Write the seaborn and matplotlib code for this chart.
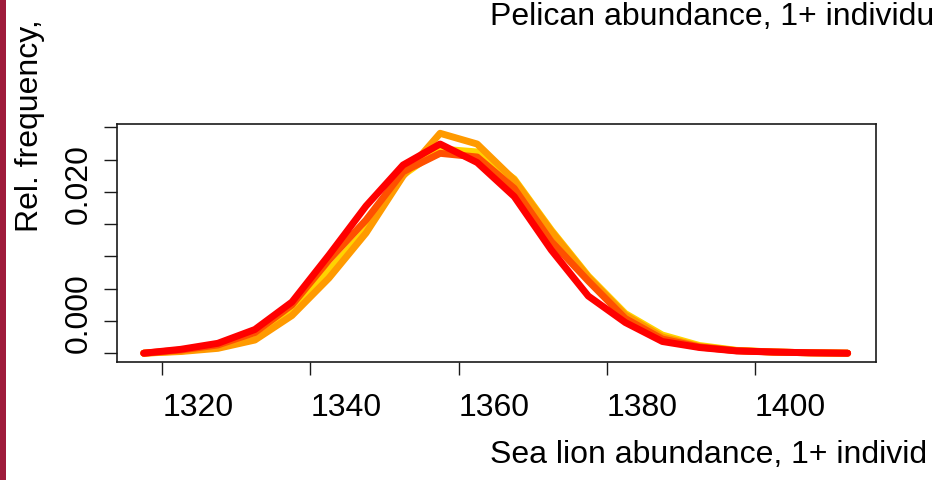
import numpy as np
import pandas as pd
import matplotlib
matplotlib.use("Agg")
import matplotlib.pyplot as plt
from matplotlib.patches import Rectangle
import seaborn as sns

# ---- data ----
abundance = [1317.5, 1322.5, 1327.5, 1332.5, 1337.5, 1342.5, 1347.5, 1352.5, 1357.5, 1362.5,
             1367.5, 1372.5, 1377.5, 1382.5, 1387.5, 1392.5, 1397.5, 1402.5, 1407.5, 1412.5]
series_names = ["yellow", "orange", "orangered", "red"]
freq_yellow = [0.00002, 0.00036, 0.00093, 0.00252, 0.00619, 0.01290, 0.01910, 0.02761, 0.03164, 0.03118,
               0.02700, 0.01910, 0.01197, 0.00616, 0.00283, 0.00121, 0.00046, 0.00020, 0.00008, 0.00002]
freq_orange = [0.00002, 0.00028, 0.00077, 0.00206, 0.00585, 0.01166, 0.01863, 0.02746, 0.03407, 0.03241,
               0.02684, 0.01894, 0.01182, 0.00593, 0.00252, 0.00105, 0.00043, 0.00020, 0.00008, 0.00002]
freq_orangered = [0.00002, 0.00051, 0.00129, 0.00322, 0.00748, 0.01445, 0.02064, 0.02812, 0.03097, 0.03040,
                  0.02555, 0.01732, 0.01120, 0.00539, 0.00221, 0.00098, 0.00040, 0.00020, 0.00008, 0.00002]
freq_red = [0.00002, 0.00062, 0.00155, 0.00369, 0.00794, 0.01522, 0.02281, 0.02916, 0.03241, 0.02955,
            0.02428, 0.01600, 0.00887, 0.00477, 0.00183, 0.00090, 0.00037, 0.00020, 0.00008, 0.00002]
line_colors = ["#FFD400", "#FF9A00", "#FF5000", "#FF0000"]

x_ticks = [1320, 1340, 1360, 1380, 1400]
y_ticks = [0.000, 0.005, 0.010, 0.015, 0.020, 0.025, 0.030, 0.035]
y_tick_labels = ["0.000", "", "", "", "0.020", "", "", ""]

title_text = "Pelican abundance, 1+ individu"
xlabel_text = "Sea lion abundance, 1+ individ"
ylabel_text = "Rel. frequency,"

df = pd.DataFrame({
    "abundance": abundance * 4,
    "freq": freq_yellow + freq_orange + freq_orangered + freq_red,
    "series": sum([[n] * len(abundance) for n in series_names], []),
})

# ---- style ----
sns.set_theme(style="white")
plt.rcParams["font.family"] = ["Liberation Sans", "DejaVu Sans"]
FS = 23

fig = plt.figure(figsize=(9.4, 4.8), dpi=100)
fig.patch.set_facecolor("white")
ax = fig.add_axes([116.7 / 940, 1 - 362.3 / 480, (876 - 116.7) / 940, (362.3 - 124) / 480])

sns.lineplot(data=df, x="abundance", y="freq", hue="series", hue_order=series_names,
             palette=line_colors, linewidth=5, legend=False, estimator=None, sort=False,
             ax=ax, solid_capstyle="round", solid_joinstyle="round")

ax.set_xlim(1313.85, 1416.33)
ax.set_ylim(-0.00139, 0.03551)

for s in ax.spines.values():
    s.set_visible(True)
    s.set_color("#1a1a1a")
    s.set_linewidth(1.2)

ax.set_xticks(x_ticks)
ax.set_xticklabels([str(t) for t in x_ticks], fontsize=FS, ha="left")
ax.set_yticks(y_ticks)
ax.set_yticklabels(y_tick_labels, fontsize=FS, rotation=90, va="bottom", ha="right")
ax.tick_params(axis="x", direction="out", length=9.6, width=1.0, color="#1a1a1a",
               pad=12.5, labelcolor="black", bottom=True)
ax.tick_params(axis="y", direction="out", length=9.6, width=1.0, color="#1a1a1a",
               pad=7.2, labelcolor="black", left=True)

ax.set_xlabel(xlabel_text, fontsize=FS, color="black")
ax.xaxis.set_label_coords((490 - 116.7) / (876 - 116.7), (362.3 - 463) / (362.3 - 124))
ax.xaxis.label.set_ha("left")
ax.xaxis.label.set_va("baseline")

ax.set_ylabel(ylabel_text, fontsize=FS, color="black")
ax.yaxis.set_label_coords((38 - 116.7) / (876 - 116.7), (362.3 - 232.5) / (362.3 - 124))
ax.yaxis.label.set_ha("left")
ax.yaxis.label.set_va("baseline")

ax.set_title(title_text, fontsize=FS, color="black", pad=0, ha="left", va="baseline",
             x=(490 - 116.7) / (876 - 116.7), y=(362.3 - 25) / (362.3 - 124))

fig.add_artist(Rectangle((0, 0), 6 / 940, 1, transform=fig.transFigure,
                         facecolor="#9E1B3B", edgecolor="none"))

fig.savefig("out.png", dpi=100)
